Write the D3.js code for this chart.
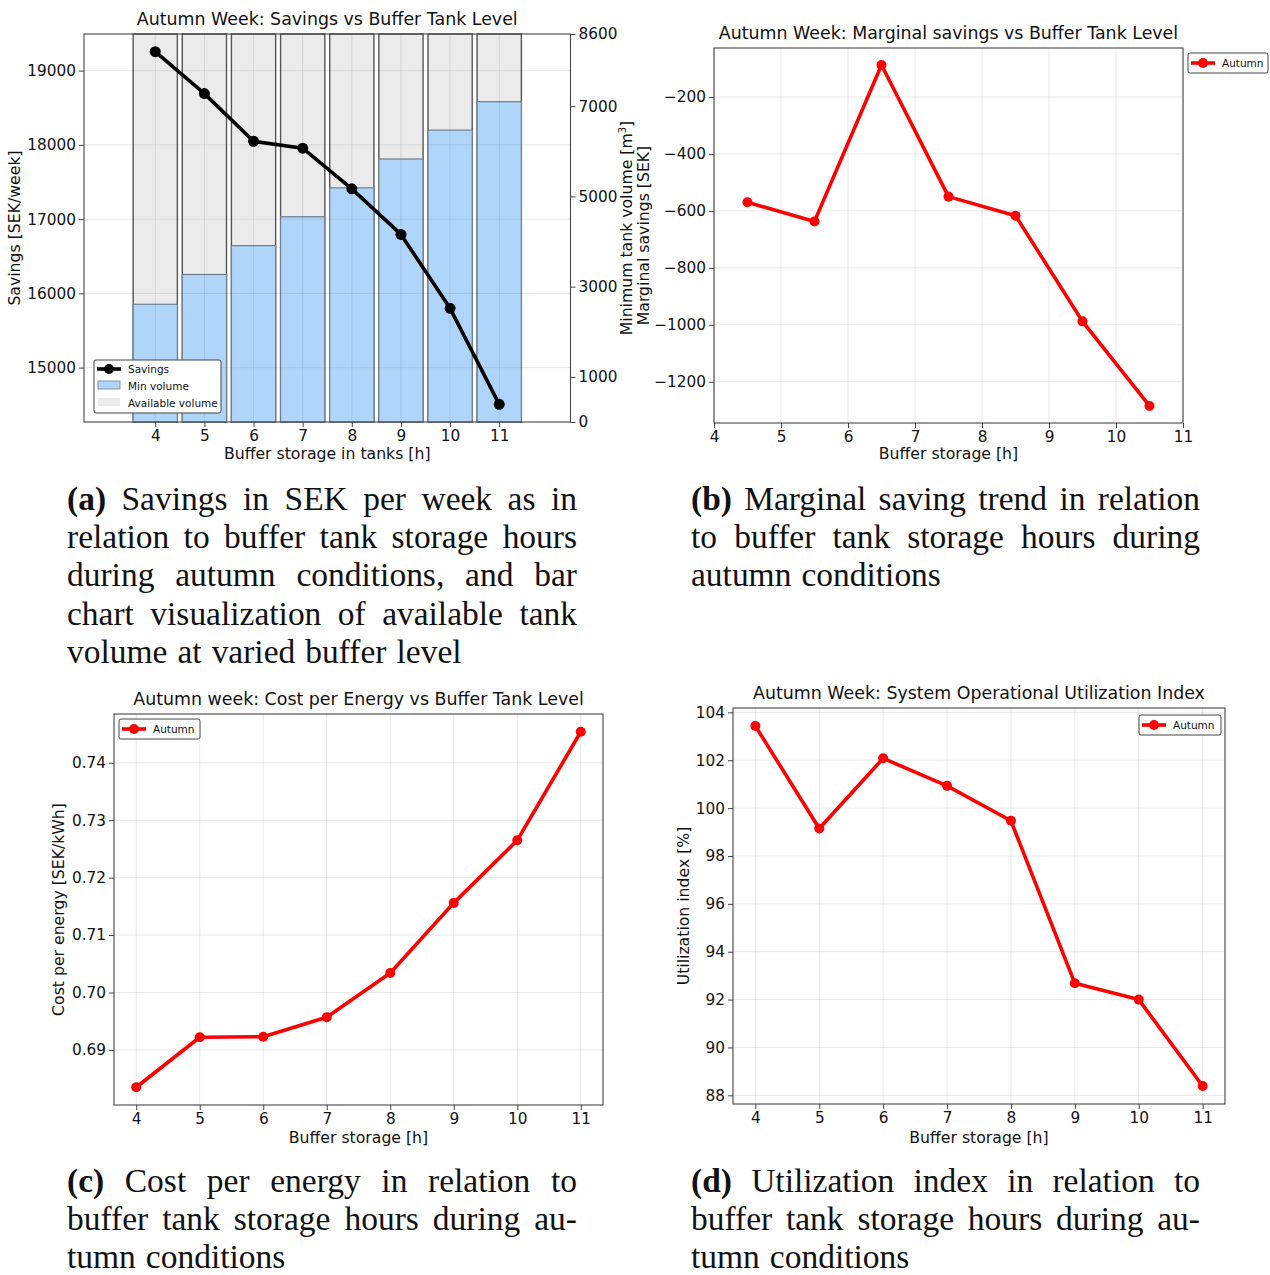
<!DOCTYPE html>
<html><head><meta charset="utf-8">
<script src="https://cdn.jsdelivr.net/npm/d3@7"></script>
<style>body{margin:0;background:#fff} svg{display:block}</style>
</head><body><svg id="c" width="1270" height="1275"></svg>
<script>
// ---------- data ----------
const hours = [4, 5, 6, 7, 8, 9, 10, 11];
const savings = [19256, 18691, 18049, 17955, 17408, 16794, 15798, 14505];
const minVolume = [2610, 3270, 3910, 4550, 5190, 5830, 6470, 7100];
const totalVolume = [8600, 8600, 8600, 8600, 8600, 8600, 8600, 8600];
const rightTicks = [0, 1000, 3000, 5000, 7000, 8600];
const marginalHours = [4.5, 5.5, 6.5, 7.5, 8.5, 9.5, 10.5];
const marginalSavings = [-570, -637, -88, -550, -617, -988, -1285];
const costPerEnergy = [0.6835, 0.6922, 0.6923, 0.6957, 0.7034, 0.7156, 0.7265, 0.7454];
const utilization = [103.43, 99.15, 102.08, 100.93, 99.47, 92.68, 92.0, 88.39];

const titles = [
  "Autumn Week: Savings vs Buffer Tank Level",
  "Autumn Week: Marginal savings vs Buffer Tank Level",
  "Autumn week: Cost per Energy vs Buffer Tank Level",
  "Autumn Week: System Operational Utilization Index"
];
const captions = [
  {x0: 67, x1: 577, y: 510, lines: [["(a)","Savings","in","SEK","per","week","as","in"],["relation","to","buffer","tank","storage","hours"],["during","autumn","conditions,","and","bar"],["chart","visualization","of","available","tank"],["volume","at","varied","buffer","level"]]},
  {x0: 691, x1: 1200, y: 510, lines: [["(b)","Marginal","saving","trend","in","relation"],["to","buffer","tank","storage","hours","during"],["autumn","conditions"]]},
  {x0: 67, x1: 577, y: 1192, lines: [["(c)","Cost","per","energy","in","relation","to"],["buffer","tank","storage","hours","during","au-"],["tumn","conditions"]]},
  {x0: 691, x1: 1200, y: 1192, lines: [["(d)","Utilization","index","in","relation","to"],["buffer","tank","storage","hours","during","au-"],["tumn","conditions"]]}
];

// ---------- helpers ----------
const svg = d3.select('#c');
const FONT = "'DejaVu Sans', sans-serif";
const AX = "#444";
const GRID = "rgba(0,0,0,0.09)";
const TICK = 15.3, LAB = 15.7, TITLE = 17.4;
const ext5 = a => { const [lo, hi] = d3.extent(a); const p = (hi - lo) * 0.05; return [lo - p, hi + p]; };
const fmtMinus = f => v => f(v).replace('-', '\u2212');

function styleAxis(g) {
  g.select('.domain').remove();
  g.selectAll('.tick line').attr('stroke', AX).attr('stroke-width', 1);
  g.selectAll('.tick text').attr('fill', '#111').style('font-family', FONT).style('font-size', TICK + 'px');
}
function grid(g, x, y, xt, yt, box) {
  const gg = g.append('g');
  xt.forEach(t => gg.append('line').attr('x1', x(t)).attr('x2', x(t)).attr('y1', box.t).attr('y2', box.b).attr('stroke', GRID));
  yt.forEach(t => gg.append('line').attr('x1', box.l).attr('x2', box.r).attr('y1', y(t)).attr('y2', y(t)).attr('stroke', GRID));
}
function frame(g, box) {
  g.append('rect').attr('x', box.l).attr('y', box.t).attr('width', box.r - box.l).attr('height', box.b - box.t)
    .attr('fill', 'none').attr('stroke', AX).attr('stroke-width', 1.1);
}
function text(g, s, x, y, opts = {}) {
  const t = g.append('text').attr('x', x).attr('y', y).text(s)
    .style('font-family', FONT).style('font-size', (opts.size || LAB) + 'px')
    .attr('text-anchor', opts.anchor || 'middle').attr('fill', '#111');
  if (opts.rot) t.attr('transform', `rotate(${opts.rot},${x},${y})`);
  if (opts.db) t.attr('dominant-baseline', opts.db);
  return t;
}
function redLine(g, xs, ys, x, y, color, r) {
  const pts = xs.map((d, i) => [x(d), y(ys[i])]);
  g.append('path').attr('d', d3.line()(pts)).attr('fill', 'none').attr('stroke', color)
    .attr('stroke-width', 3.6).attr('stroke-linejoin', 'round');
  g.selectAll(null).data(pts).enter().append('circle').attr('cx', d => d[0]).attr('cy', d => d[1]).attr('r', r).attr('fill', color);
}
function legendRed(g, l, t, w, h, label) {
  g.append('rect').attr('x', l).attr('y', t).attr('width', w).attr('height', h).attr('rx', 2)
    .attr('fill', '#fff').attr('stroke', '#444').attr('stroke-width', 1);
  const cy = t + h / 2;
  g.append('line').attr('x1', l + 3).attr('x2', l + 27).attr('y1', cy).attr('y2', cy).attr('stroke', 'red').attr('stroke-width', 3.6);
  g.append('circle').attr('cx', l + 15).attr('cy', cy).attr('r', 5).attr('fill', 'red');
  text(g, label, l + 34, cy, {size: 10.5, anchor: 'start', db: 'central'});
}

// ---------- panel (a) ----------
(function () {
  const g = svg.append('g');
  const box = {l: 84, r: 570.5, t: 34, b: 422};
  const x = d3.scaleLinear().domain([2.55, 12.45]).range([box.l, box.r]);
  const yL = d3.scaleLinear().domain(ext5(savings)).range([box.b, box.t]);
  const yR = d3.scaleLinear().domain([0, 8600]).range([box.b, box.t]);
  const bw = 0.45;
  g.selectAll(null).data(hours).enter().append('rect')
    .attr('x', d => x(d - bw)).attr('width', d => x(d + bw) - x(d - bw))
    .attr('y', (d, i) => yR(totalVolume[i])).attr('height', (d, i) => yR(0) - yR(totalVolume[i]))
    .attr('fill', '#ebebeb').attr('stroke', '#555').attr('stroke-width', 1.4);
  g.selectAll(null).data(hours).enter().append('rect')
    .attr('x', d => x(d - bw)).attr('width', d => x(d + bw) - x(d - bw))
    .attr('y', (d, i) => yR(minVolume[i])).attr('height', (d, i) => yR(0) - yR(minVolume[i]))
    .attr('fill', '#b0d5fb').attr('stroke', '#6f7f8f').attr('stroke-width', 1.2);
  grid(g, x, yL, hours, [15000, 16000, 17000, 18000, 19000], box);
  redLine(g, hours, savings, x, yL, '#000', 5.5);
  frame(g, box);
  const ax = g.append('g').attr('transform', `translate(0,${box.b})`)
    .call(d3.axisBottom(x).tickValues(hours).tickSize(5).tickPadding(3).tickFormat(d3.format('d')));
  styleAxis(ax);
  const ayl = g.append('g').attr('transform', `translate(${box.l},0)`)
    .call(d3.axisLeft(yL).tickValues([15000, 16000, 17000, 18000, 19000]).tickSize(5).tickPadding(3).tickFormat(d3.format('d')));
  styleAxis(ayl);
  const ayr = g.append('g').attr('transform', `translate(${box.r},0)`)
    .call(d3.axisRight(yR).tickValues(rightTicks).tickSize(5).tickPadding(3).tickFormat(d3.format('d')));
  styleAxis(ayr);
  text(g, titles[0], (box.l + box.r) / 2, box.t - 9, {size: TITLE});
  text(g, 'Buffer storage in tanks [h]', (box.l + box.r) / 2, 459);
  text(g, 'Savings [SEK/week]', 20, (box.t + box.b) / 2, {rot: -90});
  const rl = g.append('text').attr('x', 632).attr('y', (box.t + box.b) / 2).attr('text-anchor', 'middle')
    .attr('transform', `rotate(-90,632,${(box.t + box.b) / 2})`)
    .style('font-family', FONT).style('font-size', LAB + 'px').attr('fill', '#111');
  rl.text('Minimum tank volume [m');
  rl.append('tspan').text('3').attr('dy', -6).style('font-size', '10px');
  rl.append('tspan').text(']').attr('dy', 6);
  // legend
  const L = {l: 94, t: 360, w: 127, h: 53};
  g.append('rect').attr('x', L.l).attr('y', L.t).attr('width', L.w).attr('height', L.h).attr('rx', 2)
    .attr('fill', '#fff').attr('stroke', '#444').attr('stroke-width', 1);
  g.append('line').attr('x1', 97).attr('x2', 121).attr('y1', 369).attr('y2', 369).attr('stroke', '#000').attr('stroke-width', 3.6);
  g.append('circle').attr('cx', 109).attr('cy', 369).attr('r', 5).attr('fill', '#000');
  g.append('rect').attr('x', 98).attr('y', 381).attr('width', 22).attr('height', 8).attr('fill', '#b0d5fb').attr('stroke', '#6f7f8f').attr('stroke-width', 0.8);
  g.append('rect').attr('x', 98).attr('y', 398).attr('width', 22).attr('height', 8).attr('fill', '#ebebeb');
  text(g, 'Savings', 128, 369, {size: 10.5, anchor: 'start', db: 'central'});
  text(g, 'Min volume', 128, 386, {size: 10.5, anchor: 'start', db: 'central'});
  text(g, 'Available volume', 128, 403, {size: 10.5, anchor: 'start', db: 'central'});
})();

// ---------- panel (b) ----------
(function () {
  const g = svg.append('g');
  const box = {l: 714, r: 1183, t: 48, b: 423};
  const x = d3.scaleLinear().domain([4, 11]).range([box.l, box.r]);
  const y = d3.scaleLinear().domain(ext5(marginalSavings)).range([box.b, box.t]);
  const yt = [-1200, -1000, -800, -600, -400, -200];
  grid(g, x, y, hours, yt, box);
  redLine(g, marginalHours, marginalSavings, x, y, 'red', 5);
  frame(g, box);
  styleAxis(g.append('g').attr('transform', `translate(0,${box.b})`)
    .call(d3.axisBottom(x).tickValues(hours).tickSize(5).tickPadding(3).tickFormat(d3.format('d'))));
  styleAxis(g.append('g').attr('transform', `translate(${box.l},0)`)
    .call(d3.axisLeft(y).tickValues(yt).tickSize(5).tickPadding(3).tickFormat(fmtMinus(d3.format('d')))));
  text(g, titles[1], (box.l + box.r) / 2, box.t - 9, {size: TITLE});
  text(g, 'Buffer storage [h]', (box.l + box.r) / 2, 459);
  text(g, 'Marginal savings [SEK]', 649, (box.t + box.b) / 2, {rot: -90});
  legendRed(g, 1188, 53, 80, 20, 'Autumn');
})();

// ---------- panel (c) ----------
(function () {
  const g = svg.append('g');
  const box = {l: 114, r: 603, t: 714, b: 1105};
  const x = d3.scaleLinear().domain([3.65, 11.35]).range([box.l, box.r]);
  const y = d3.scaleLinear().domain(ext5(costPerEnergy)).range([box.b, box.t]);
  const yt = [0.69, 0.70, 0.71, 0.72, 0.73, 0.74];
  grid(g, x, y, hours, yt, box);
  redLine(g, hours, costPerEnergy, x, y, 'red', 5);
  frame(g, box);
  styleAxis(g.append('g').attr('transform', `translate(0,${box.b})`)
    .call(d3.axisBottom(x).tickValues(hours).tickSize(5).tickPadding(3).tickFormat(d3.format('d'))));
  styleAxis(g.append('g').attr('transform', `translate(${box.l},0)`)
    .call(d3.axisLeft(y).tickValues(yt).tickSize(5).tickPadding(3).tickFormat(d3.format('.2f'))));
  text(g, titles[2], (box.l + box.r) / 2, box.t - 9, {size: TITLE});
  text(g, 'Buffer storage [h]', (box.l + box.r) / 2, 1143);
  text(g, 'Cost per energy [SEK/kWh]', 64, (box.t + box.b) / 2, {rot: -90});
  legendRed(g, 119, 719, 81, 20, 'Autumn');
})();

// ---------- panel (d) ----------
(function () {
  const g = svg.append('g');
  const box = {l: 733, r: 1225, t: 708, b: 1104};
  const x = d3.scaleLinear().domain([3.65, 11.35]).range([box.l, box.r]);
  const y = d3.scaleLinear().domain(ext5(utilization)).range([box.b, box.t]);
  const yt = [88, 90, 92, 94, 96, 98, 100, 102, 104];
  grid(g, x, y, hours, yt, box);
  redLine(g, hours, utilization, x, y, 'red', 5);
  frame(g, box);
  styleAxis(g.append('g').attr('transform', `translate(0,${box.b})`)
    .call(d3.axisBottom(x).tickValues(hours).tickSize(5).tickPadding(3).tickFormat(d3.format('d'))));
  styleAxis(g.append('g').attr('transform', `translate(${box.l},0)`)
    .call(d3.axisLeft(y).tickValues(yt).tickSize(5).tickPadding(3).tickFormat(d3.format('d'))));
  text(g, titles[3], (box.l + box.r) / 2, box.t - 9, {size: TITLE});
  text(g, 'Buffer storage [h]', (box.l + box.r) / 2, 1143);
  text(g, 'Utilization index [%]', 689, (box.t + box.b) / 2, {rot: -90});
  legendRed(g, 1139, 715, 82, 20, 'Autumn');
})();

// ---------- captions ----------
(function () {
  const SERIF = "'Liberation Serif', 'DejaVu Serif', serif";
  const probe = svg.append('text').style('font-family', SERIF).style('font-size', '100px').text('volume at varied buffer level');
  const w100 = probe.node().getComputedTextLength();
  probe.remove();
  const fs = Math.min(34, 388 / w100 * 100);
  const LH = 38.2;
  captions.forEach(cap => {
    cap.lines.forEach((words, li) => {
      const y = cap.y + li * LH;
      const nodes = words.map((w, wi) => {
        const t = svg.append('text').attr('y', y).text(w)
          .style('font-family', SERIF).style('font-size', fs + 'px').attr('fill', '#111');
        if (li === 0 && wi === 0) t.style('font-weight', 'bold');
        return t;
      });
      const widths = nodes.map(n => n.node().getComputedTextLength());
      const total = d3.sum(widths);
      const last = li === cap.lines.length - 1;
      const gap = last ? fs * 0.3 : (cap.x1 - cap.x0 - total) / (words.length - 1);
      let xx = cap.x0;
      nodes.forEach((n, i) => { n.attr('x', xx); xx += widths[i] + gap; });
    });
  });
})();
</script></body></html>
